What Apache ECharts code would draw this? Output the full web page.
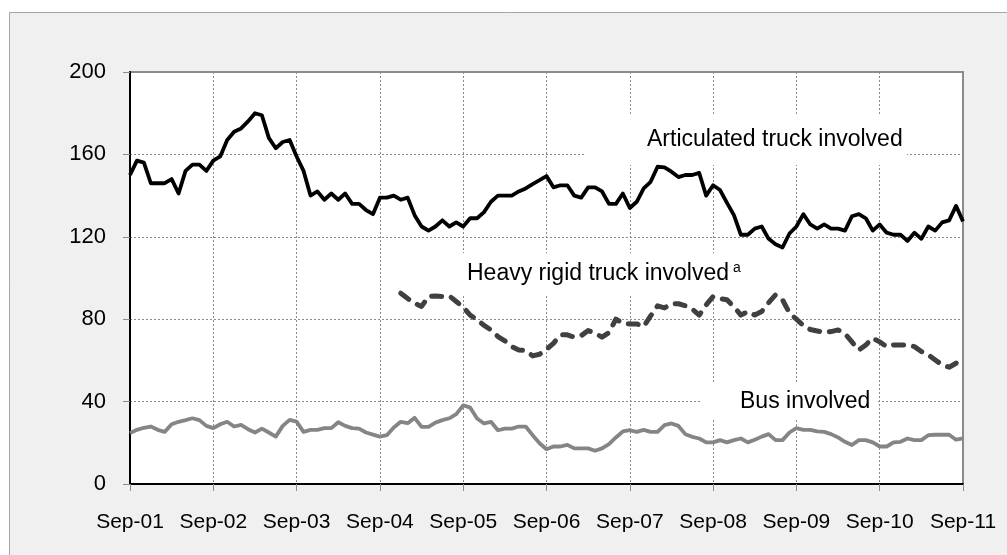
<!DOCTYPE html>
<html>
<head>
<meta charset="utf-8">
<script src="https://cdn.jsdelivr.net/npm/echarts@6.0.0/dist/echarts.min.js"></script>
<style>
  html, body { margin: 0; padding: 0; background: #fff; }
  #chart { width: 1007px; height: 555px; }
</style>
</head>
<body>
<div id="chart"></div>
<script>
// monthly labels, Sep-01 .. Sep-11
const monthNames = ['Sep', 'Oct', 'Nov', 'Dec', 'Jan', 'Feb', 'Mar', 'Apr', 'May', 'Jun', 'Jul', 'Aug']
const months = []
for (let i = 0; i <= 120; i++) {
    const yr = 1 + Math.floor((i + 8) / 12)
    months.push(monthNames[i % 12] + '-' + String(yr).padStart(2, '0'))
}

const articulated = [
    150, 157, 156, 146, 146, 146, 148, 141, 152, 155, 155, 152,
    157, 159, 167, 171, 172.6, 176, 180, 179, 168, 163, 166, 167,
    159, 152, 140, 142, 138, 141, 138, 141, 136, 136, 133, 131,
    139, 139, 140, 138, 139, 130.5, 125, 123, 125, 128, 125, 127,
    125, 129, 129, 132, 137, 140, 140, 140, 142, 143.5, 145.6, 147.5,
    149.5, 144, 145, 145, 140, 139, 144, 144, 142, 136, 136, 141,
    134, 137, 143.5, 146.7, 154, 153.7, 151.6, 149, 150, 150, 151, 140,
    145, 142.7, 136.5, 130.5, 121, 121, 124, 125, 119, 116.4, 114.8, 121.6,
    125, 131, 126, 124, 126, 124, 124, 123, 130, 131, 129, 123,
    126, 122, 121, 121, 118, 122, 119, 125, 123, 127, 128, 135, 127.5
]

// heavy rigid series begins Dec-04
const heavyRigid = [
    null, null, null, null, null, null, null, null, null, null, null, null,
    null, null, null, null, null, null, null, null, null, null, null, null,
    null, null, null, null, null, null, null, null, null, null, null, null,
    null, null, null, 92.6, 90, 87.8, 86.2, 91, 91.3, 91, 91.3, 88.6,
    85.8, 82, 79.7, 77, 74.8, 71.6, 69.5, 66.7, 65, 64.8, 62.2, 63,
    65.4, 68.3, 72.4, 72.4, 71.3, 72, 74.5, 73.2, 71.3, 73.5, 80, 78,
    77.7, 77.7, 76.4, 81.6, 86.5, 85.5, 87.5, 87.5, 86.5, 84.9, 82, 87,
    91, 90, 89.4, 86, 82, 83.7, 82, 83.7, 88, 91.8, 89.4, 83,
    80, 77, 75, 74.3, 73.5, 74, 74.8, 72.9, 69, 65, 67.5, 70.8,
    69, 66.7, 67.5, 67.5, 67.5, 66.7, 64.3, 62.7, 60.2, 57.8, 56.7, 58.6, 62.2
]

const bus = [
    24.7, 26.3, 27.3, 27.9, 26.3, 25.3, 29, 30.2, 31, 31.9, 31, 28.2,
    27.1, 29, 30.2, 27.9, 28.7, 26.6, 25, 26.9, 25, 23, 28.2, 31.1,
    30.3, 25.3, 26.3, 26.3, 27.1, 27.1, 30, 28.2, 27.1, 26.9, 25, 24,
    23, 23.7, 27.4, 30.2, 29.5, 32.1, 27.7, 27.7, 29.8, 31, 31.9, 33.9,
    38.2, 37.1, 31.8, 29.4, 30.2, 26.1, 26.9, 26.9, 27.9, 27.9, 23.7, 19.8,
    16.9, 18.2, 18.2, 19, 17.3, 17.3, 17.3, 16.1, 17.3, 19.4, 22.6, 25.5,
    26.1, 25.3, 26.3, 25.3, 25.3, 28.6, 29.4, 28.2, 24.2, 22.9, 22.1, 20.2,
    20.2, 21.3, 20.2, 21.3, 22.1, 20.2, 21.5, 23, 24.2, 21.3, 21.3, 25,
    27.1, 26.3, 26.3, 25.5, 25.3, 24.2, 22.6, 20.5, 18.9, 21.3, 21.3, 20.2,
    18.2, 18.2, 20.2, 20.5, 22.1, 21.3, 21.3, 23.7, 23.9, 23.9, 23.9, 21.5, 22.1
]

const FONT = 'Liberation Sans, Arial, sans-serif'
const gridDots = { color: '#8a8a8a', width: 1, type: [2, 2] }

// white label box behind annotation text
function labelBox(x, y, w, h) {
    return { type: 'rect', z: 1, silent: true, shape: { x: x, y: y, width: w, height: h }, style: { fill: '#fff' } }
}
function labelText(x, y, text, size) {
    return {
        type: 'text', z: 1, silent: true, x: x, y: y,
        style: { text: text, fill: '#000', font: size + 'px ' + FONT, textVerticalAlign: 'middle' }
    }
}

const chart = echarts.init(document.getElementById('chart'), null, { renderer: 'canvas' })

chart.setOption({
    animation: false,
    backgroundColor: '#fff',
    textStyle: { fontFamily: FONT },
    grid: {
        left: 130, top: 72, right: 44, bottom: 71,
        show: true, backgroundColor: '#fff', borderColor: '#8c8c8c', borderWidth: 2
    },
    xAxis: {
        type: 'category',
        data: months,
        boundaryGap: false,
        axisLine: { lineStyle: { color: '#000', width: 2 } },
        axisTick: { show: true, interval: 11, length: 7, lineStyle: { color: '#8c8c8c', width: 1 } },
        axisLabel: { interval: 11, margin: 28, fontSize: 21, color: '#000', fontFamily: FONT },
        splitLine: { show: true, interval: 11, lineStyle: gridDots }
    },
    yAxis: {
        type: 'value',
        min: 0, max: 200, interval: 40,
        axisLine: { show: true, lineStyle: { color: '#000', width: 2 } },
        axisTick: { show: true, length: 7, lineStyle: { color: '#8c8c8c', width: 1 } },
        axisLabel: { margin: 24, fontSize: 22, color: '#000', fontFamily: FONT },
        splitLine: { show: true, lineStyle: gridDots }
    },
    graphic: [
        {
            type: 'rect', z: -1, silent: true,
            shape: { x: 9.5, y: 12.5, width: 1000, height: 560 },
            style: { fill: '#f0f0f0', stroke: '#a6a6a6', lineWidth: 1 }
        },
        labelBox(585, 115, 322, 50),
        labelText(647, 140, 'Articulated truck involved', 23),
        labelBox(455, 253, 305, 42),
        labelText(467, 274, 'Heavy rigid truck involved', 23),
        labelText(733, 268, 'a', 14),
        labelBox(702, 382, 174, 38),
        labelText(740, 402, 'Bus involved', 23)
    ],
    series: [
        {
            name: 'Articulated truck involved',
            type: 'line',
            data: articulated,
            symbol: 'none',
            lineStyle: { color: '#000', width: 3.8, join: 'round' }
        },
        {
            name: 'Heavy rigid truck involved',
            type: 'line',
            data: heavyRigid,
            symbol: 'none',
            connectNulls: false,
            lineStyle: { color: '#404040', width: 5, type: [10, 10], cap: 'round', join: 'round' }
        },
        {
            name: 'Bus involved',
            type: 'line',
            data: bus,
            symbol: 'none',
            lineStyle: { color: '#858585', width: 3.8, join: 'round' }
        }
    ]
})

window.addEventListener('resize', () => chart.resize())
</script>
</body>
</html>
